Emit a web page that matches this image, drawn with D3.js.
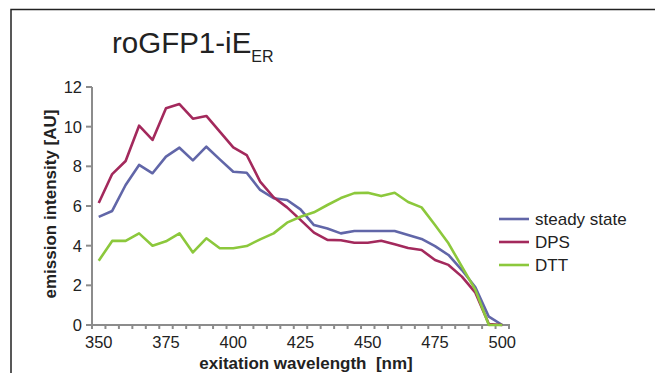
<!DOCTYPE html>
<html>
<head>
<meta charset="utf-8">
<script src="https://cdn.jsdelivr.net/npm/d3@7"></script>
<style>
  body { margin:0; background:#fff; }
  text { font-family: Arial, "Liberation Sans", sans-serif; fill:#222; }
</style>
</head>
<body>
<div id="chart"></div>
<script>
var wavelengths = [350,355,360,365,370,375,380,385,390,395,400,405,410,415,420,425,430,435,440,445,450,455,460,465,470,475,480,485,490,495,500];
var steadyState = [5.45,5.75,7.06,8.07,7.65,8.49,8.94,8.3,8.99,8.35,7.73,7.68,6.81,6.39,6.3,5.83,5.04,4.87,4.62,4.74,4.74,4.74,4.74,4.54,4.34,3.98,3.53,2.77,1.9,0.42,0];
var dps = [6.15,7.61,8.27,10.05,9.33,10.93,11.14,10.4,10.54,9.75,8.96,8.57,7.23,6.44,5.93,5.3,4.66,4.29,4.27,4.15,4.15,4.25,4.07,3.88,3.78,3.28,3.03,2.44,1.63,0.05,0];
var dtt = [3.24,4.24,4.24,4.62,4.0,4.22,4.62,3.66,4.37,3.87,3.87,3.98,4.32,4.62,5.16,5.46,5.68,6.05,6.4,6.65,6.67,6.5,6.67,6.2,5.93,5.04,4.12,2.94,1.77,0,0];
var yTicks = [0,2,4,6,8,10,12];
var xLabels = [350,375,400,425,450,475,500];
var seriesNames = ["steady state","DPS","DTT"];
var seriesColors = ["#6166a8","#a3295c","#8cc83c"];

var width = 655, height = 373;
var svg = d3.select("#chart").append("svg")
	.attr("width", width)
	.attr("height", height);

// outer frame (top and left only visible)
svg.append("path")
	.attr("d","M11,373 L11,9.5 L655,9.5")
	.attr("fill","none")
	.attr("stroke","#222")
	.attr("stroke-width",1.5);

var x = d3.scaleBand()
	.domain(wavelengths)
	.range([92,509])
	.padding(0);
var y = d3.scaleLinear()
	.domain([0,12])
	.range([325,87]);

// title
var title = svg.append("text")
	.attr("x",112)
	.attr("y",53)
	.style("font-size","29.5px");
title.append("tspan").text("roGFP1-iE");
title.append("tspan")
	.attr("dy",9)
	.style("font-size","16px")
	.text("ER");

// y axis
var yAxis = svg.append("g").attr("class","y axis");
yAxis.append("line")
	.attr("x1",92).attr("x2",92)
	.attr("y1",y(12)).attr("y2",y(0)+1)
	.attr("stroke","#8c8c8c")
	.attr("stroke-width",2);
yAxis.selectAll(".ytick")
	.data(yTicks)
	.enter()
	.append("line")
	.attr("x1",86).attr("x2",92)
	.attr("y1",function(d){ return y(d); })
	.attr("y2",function(d){ return y(d); })
	.attr("stroke","#8c8c8c")
	.attr("stroke-width",2);
yAxis.selectAll(".ylabel")
	.data(yTicks)
	.enter()
	.append("text")
	.attr("x",82)
	.attr("y",function(d){ return y(d)+6; })
	.style("text-anchor","end")
	.style("font-size","16.5px")
	.text(function(d){ return d; });

// x axis with ticks between categories
var xAxis = svg.append("g").attr("class","x axis");
xAxis.append("line")
	.attr("x1",91).attr("x2",510)
	.attr("y1",y(0)).attr("y2",y(0))
	.attr("stroke","#8c8c8c")
	.attr("stroke-width",2);
var boundaries = wavelengths.map(function(d){ return x(d); }).concat([x.range()[1]]);
xAxis.selectAll(".xtick")
	.data(boundaries)
	.enter()
	.append("line")
	.attr("x1",function(d){ return d; })
	.attr("x2",function(d){ return d; })
	.attr("y1",y(0)).attr("y2",y(0)+4)
	.attr("stroke","#8c8c8c")
	.attr("stroke-width",2);
xAxis.selectAll(".xlabel")
	.data(xLabels)
	.enter()
	.append("text")
	.attr("x",function(d){ return x(d)+x.bandwidth()/2; })
	.attr("y",348)
	.style("text-anchor","middle")
	.style("font-size","16.5px")
	.text(function(d){ return d; });

// axis titles
svg.append("text")
	.attr("transform","translate(56,204) rotate(-90)")
	.style("text-anchor","middle")
	.style("font-size","17px")
	.style("font-weight","bold")
	.text("emission intensity [AU]");
svg.append("text")
	.attr("x",306)
	.attr("y",369)
	.style("text-anchor","middle")
	.style("font-size","17px")
	.style("font-weight","bold")
	.attr("xml:space","preserve")
	.style("white-space","pre")
	.text("exitation wavelength  [nm]");

// lines
var line = d3.line()
	.x(function(d,i){ return x(wavelengths[i])+x.bandwidth()/2; })
	.y(function(d){ return y(d); });
var allSeries = [steadyState, dps, dtt];
svg.selectAll(".series")
	.data(allSeries)
	.enter()
	.append("path")
	.attr("class","series")
	.attr("d",line)
	.attr("fill","none")
	.attr("stroke",function(d,i){ return seriesColors[i]; })
	.attr("stroke-width",2.6)
	.attr("stroke-linejoin","round");

// legend
var legend = svg.append("g")
	.selectAll("g")
	.data(seriesNames)
	.enter()
	.append("g")
	.attr("transform",function(d,i){ return "translate(499," + (219 + i*23) + ")"; });
legend.append("line")
	.attr("x1",0).attr("x2",30)
	.attr("y1",0).attr("y2",0)
	.attr("stroke",function(d,i){ return seriesColors[i]; })
	.attr("stroke-width",2.6);
legend.append("text")
	.attr("x",36)
	.attr("y",6)
	.style("font-size","17px")
	.text(function(d){ return d; });
</script>
</body>
</html>
